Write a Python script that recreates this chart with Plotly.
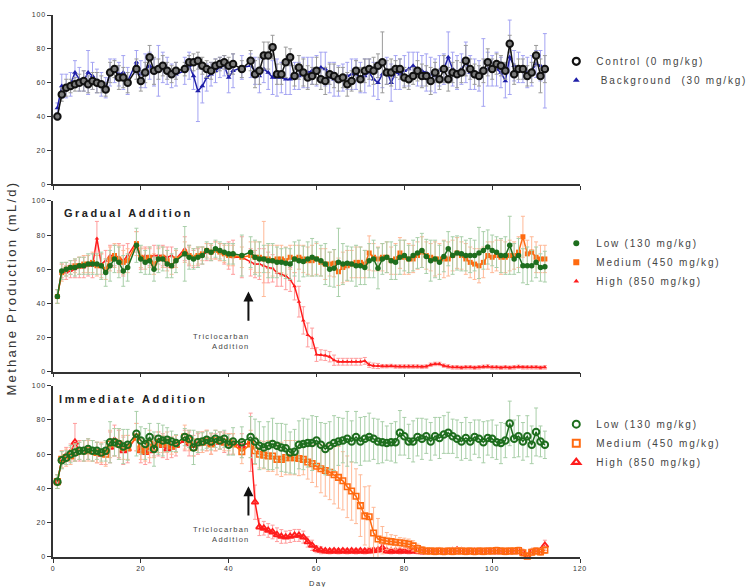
import plotly.graph_objects as go

# ---------------- DATA ----------------
DAYS = list(range(1, 18)) + list(range(19, 29)) + list(range(30, 42)) + [43] + list(range(45, 113))

# Panel 1
CONTROL = [40,53,57,58,59,60,61,59,61,60,59,56,66,68,63,63,60,
           68,61,66,75,67,68,70,67,65,67,
           68,72,72,73,70,68,67,70,71,72,70,71,
           68,
           73,65,67,76,76,81,65,65,72,75, 64,69,66,63,64,67,62,61,65,64,
           62,63,59,61,67,62,67,68,67,70, 72,66,66,68,68,63,62,64,67,64,
           64,61,66,62,68,62,66,65,66,73, 68,65,64,67,72,68,71,70,67,83,
           65,68,68,64,66,76,64,68]
CONTROL_ERR = [2,4,5,4,4,5,6,5,5,6,5,4,6,5,7,6,6,
               6,6,6,7,8,6,6,5,5,5,
               4,4,5,5,5,5,5,4,4,4,5,6,
               5,
               6,8,8,8,8,7,6,6,9,5, 6,7,8,7,5,8,6,8,6,7,
               7,6,7,6,6,7,7,6,8,7, 18,7,8,5,6,6,6,5,6,7,
               6,8,6,6,8,7,6,8,6,9, 6,6,6,7,8,6,6,6,5,5,
               6,6,6,6,6,6,10,8]
BACKGROUND = [45,58,58,59,66,62,61,66,64,61,59,57,66,67,65,66,61,
              72,65,67,70,66,67,69,67,64,65,
              67,70,64,55,58,63,65,67,69,70,63,67,
              69,
              70,67,64,68,66,63,63,63,62,62, 64,64,66,66,67,67,69,68,63,62,
              61,63,64,65,65,63,64,66,62,60, 65,67,60,66,65,67,68,70,68,67,
              66,65,64,67,68,75,68,66,68,72, 66,65,64,66,68,67,68,66,61,75,
              70,69,68,66,67,71,70,67]
BACKGROUND_ERR = [3,7,7,7,7,7,6,13,8,7,7,6,8,7,7,10,8,
                  7,8,10,8,8,15,9,8,7,7,
                  8,8,8,18,10,8,7,7,6,6,9,10,
                  7,
                  7,8,10,8,10,10,11,9,9,9, 8,8,9,9,8,9,9,10,9,10,
                  9,8,8,9,9,9,10,8,10,10, 8,8,11,10,9,9,10,8,10,9,
                  11,10,10,9,9,15,10,10,9,12, 10,9,9,20,10,9,10,9,10,22,
                  9,9,8,9,9,8,9,22]

# Panel 2 (Gradual Addition)
GRAD_LOW = [44,59,60,61,61,62,62,63,63,63,62,58,62,66,64,59,61,
            74,66,64,65,60,66,66,63,62,65,
            69,67,66,67,68,71,70,72,71,70,69,69,
            68,
            70,67,66,66,65,65,64,64,63.5,63, 66,65,64.5,66,67,66,65,63,60,60.5,
            64,63,63.5,63,62,62,61,65,66,60.5, 66,67,65,64,67,68,66,68,69.5,71,
            67.5,65,66,64,67.5,72,68,69.5,69,68, 68,68,69.5,71,73,71,70,68,68,74,
            66,68,62,62,62,64,61,61.5]
GRAD_LOW_ERR = [4,5,4,4,5,5,5,6,6,6,8,8,9,8,9,9,8,
                10,8,7,8,7,8,7,8,7,7,
                16,7,6,6,5,5,5,5,5,5,6,6,
                12,
                9,10,10,8,10,10,9,8,9,9, 10,12,9,10,11,10,9,12,10,11,
                20,12,10,10,12,11,10,10,11,12, 9,9,11,10,10,9,8,9,9,10,
                10,12,11,10,9,10,11,10,10,9, 10,9,15,11,10,9,9,10,11,17,
                9,10,10,11,9,9,8,9]
GRAD_MED = [44,58,60,61,62,62,63,63,64,62,62,60,66,68,66,64,65,
            75,67,66,67,63,66,67,65,62,66,
            70,68,67,68,69,71,70,71,70,69,68,68,
            67,
            68,67,67,66,66,65,66,66,65,67, 66,67,66,65,65,66,64,63,63,63.5,
            58.5,61,62,63,64,64,63,69.5,67,66, 67,67,65,66,69.5,67,66,66,68,70,
            68,67,66,66,66,66,68,69.5,68,66, 64,63,62,64,68,67,68,67,67,68,
            68,70,79,69,70,67,66,66]
GRAD_MED_ERR = [4,5,4,4,4,5,5,5,6,6,7,6,7,7,8,7,7,
                7,6,6,6,6,6,6,6,5,5,
                6,5,5,5,4,4,4,5,5,5,6,6,
                6,
                8,9,9,22,8,9,8,8,8,7, 8,7,8,8,9,9,8,9,7,8,
                8,9,9,8,9,9,8,10,8,7, 8,9,8,9,9,10,9,8,8,9,
                8,8,10,9,11,10,9,9,8,9, 9,9,10,9,8,9,9,10,9,9,
                8,9,12,8,9,9,8,8]
GRAD_HIGH = [44,59,58,59,60,61,61,62,62,78,63,65,68,68,67,65,68,
             76,66,68,67,68,68,68,67,68,66,
             72,68,66,67,68,70,70,71,70,69,68,67,
             67,
             64,63,63,62,61,60.5,58,57,56,54, 50,41,30,21.5,19.5,10,9.8,9.5,8.7,6.7,
             5.8,5.8,5.8,5.8,5.8,5.8,6.3,4,3.5,3.3, 3.2,3.2,3.3,3,3,3,3,3,3,2.8,
             3,4,4.5,4.5,3.5,3,2.5,2.5,2.3,2.5, 2.5,2.3,2.5,2.8,3,2.5,2.5,2.3,2.5,2.3,
             2.5,2.8,2.5,2.5,2.5,2.5,2.3,2.5]
GRAD_HIGH_ERR = [4,4,4,4,5,6,6,6,7,10,6,6,6,6,8,9,7,
                 6,6,5,5,6,5,6,6,5,5,
                 7,6,5,5,5,5,5,5,5,6,8,10,
                 12,
                 8,8,9,10,9,8,8,7,8,7, 8,9,8,7,6,4,3,3,3,3,
                 2,2,2,2,2,2,2,1.5,1.5,1.5, 1,1,1,1,1,1,1,1,1,1,
                 1,1,1,1,1,1,1,1,1,1, 1,1,1,1,1,1,1,1,1,1,
                 1,1,1,1,1,1,1,1]

# Panel 3 (Immediate Addition)
IMM_LOW = [44,56.5,58,60,61,62,62,63,62,62,61,62,67,67,66,64.5,65.5,
           72,68,66,70,63,69,68,68.5,67.5,66.5,
           70,69,64,67,67.5,68.5,67.5,69,68,69,65.5,67.5,
           67,
           70,67.5,65,64,65,66,65,64,63.5,61, 61.5,65.5,66,66.5,66.5,68,65.5,63,65,66.5,
           67.5,68,69,67.5,70,67.5,69,70,69,67.5, 67,66.5,67,67,72.5,70.5,67.5,67.5,70,69,
           70.5,67.5,70.5,69.5,71.5,72.5,70.5,69,67.5,69.5, 67.5,70,69,67,69.5,69,67,66.5,68,78,
           69,70.5,67.5,70.5,65.5,73,67.5,65.5]
IMM_LOW_ERR = [4,5,4,5,5,5,6,6,6,5,5,6,12,8,9,10,9,
               13,8,9,8,10,9,9,7,6,5,
               5,5,10,6,5,5,5,5,5,5,6,8,
               9,
               12,13,14,12,14,15,13,14,14,12, 13,14,15,14,16,14,13,15,14,16,
               14,13,16,12,15,14,13,14,12,13, 12,10,11,12,13,11,10,12,11,12,
               10,11,11,12,11,12,10,11,11,12, 11,10,11,12,10,11,10,12,10,13,
               11,12,11,12,11,14,9,8]
IMM_MED = [44,57,58,59,61,62,62,62,62,61,61,60,66,67,66,64,64,
           70,63,62,66,64,67,66,67,65,66,
           70,68,64,67,67,68,66,68,68,67,67,66,
           61.5,
           66,62,60,59.5,59,59,57,57,58,58, 58,57.5,57,55.5,54.5,53,51.5,50.5,49.5,48,
           46.5,44.5,41,38.5,35.5,30,24,23.5,14,10.5, 9.8,9.3,9,8.6,8.3,8,7.5,6.5,5,4,
           3.5,3.5,3.3,3.5,3.2,3.5,3.3,3.5,3.5,3.3, 3.5,3.2,3.5,3.3,3.5,3.5,3.8,3.5,3.3,3.5,
           3.5,3.8,2.5,0.5,2.8,3.5,3,4]
IMM_MED_ERR = [4,5,5,5,5,5,6,6,6,6,6,7,8,8,9,7,7,
               8,6,6,8,6,6,5,6,5,5,
               7,6,5,6,6,6,6,6,5,5,5,6,
               7,
               8,8,8,8,9,9,9,10,10,10, 10,10,9,10,11,12,14,15,16,17,
               18,17,18,17,16,18,17,18,15,12, 8,5,4,4,3,3,3,3,2.5,2,
               2,2,2,2,2,2,2,2,2,2, 2,2,2,2,2,2,2,2,2,2,
               2,2,2,2,2,2,2,2]
IMM_HIGH = [44,57,59,61,67,62,62,63,62,61,60,61,64,68,66,62,63,
            70,62,61,62,65,66,65,63,64,65,
            68,66,65,66,67,68,66,67,68,67,66,66,
            65,
            67,32,17.5,16.8,15.5,14.6,13,12,11.6,12, 12.6,12.6,11.6,8.8,6.8,4.5,3.9,3.5,3.3,3.5,
            3.3,3.5,3.3,3.5,3.3,3.5,3.3,3.5,3.8,4, 5.3,3.5,3.3,3.5,3.3,3.5,3.3,3.5,3.3,3,
            3,3.2,3,3.3,3,3.2,3.5,4,3.5,3, 3,3.2,3,3,3.2,3,3,3.2,3,3,
            3,3.2,2.5,0.5,3,3,3.5,6.8]
IMM_HIGH_ERR = [4,5,5,5,11,6,6,6,6,6,6,7,9,9,8,8,8,
                8,7,7,7,6,7,7,6,6,6,
                6,7,6,6,6,6,6,5,5,6,6,6,
                7,
                17,10,5,4,4,4,4,4,3.5,3.5, 3.5,3.5,3.5,3,3,2,2,1.5,1.5,1.5,
                1.5,1.5,1.5,1.5,1.5,1.5,1.5,1.5,1.5,1.5, 2,1.5,1.5,1.5,1.5,1.5,1.5,1.5,1.5,1.5,
                1.5,1.5,1.5,1.5,1.5,1.5,1.5,1.5,1.5,1.5, 1.5,1.5,1.5,1.5,1.5,1.5,1.5,1.5,1.5,1.5,
                1.5,1.5,1.5,1.5,1.5,1.5,1.5,3]

LEGEND1 = ["Control (0 mg/kg)", " Background  (30 mg/kg)"]
LEGEND2 = ["Low (130 mg/kg)", "Medium (450 mg/kg)", "High (850 mg/kg)"]
LEGEND3 = ["Low (130 mg/kg)", "Medium (450 mg/kg)", "High (850 mg/kg)"]
PANEL_TITLES = ["Gradual Addition", "Immediate Addition"]
Y_TITLE = "Methane Production (mL/d)"
X_TITLE = "Day"
ARROW_TEXT = "Triclocarban<br>Addition"
YTICKS = [0, 20, 40, 60, 80, 100]
XTICKS = [0, 20, 40, 60, 80, 100, 120]

for arr in [CONTROL, CONTROL_ERR, BACKGROUND, BACKGROUND_ERR, GRAD_LOW, GRAD_LOW_ERR,
            GRAD_MED, GRAD_MED_ERR, GRAD_HIGH, GRAD_HIGH_ERR, IMM_LOW, IMM_LOW_ERR,
            IMM_MED, IMM_MED_ERR, IMM_HIGH, IMM_HIGH_ERR]:
    assert len(arr) == len(DAYS), len(arr)

# ---------------- STYLE ----------------
BLACK = "#111111"; GRAY_ERR = "#9a9a9a"
BLUE = "#1f1fa8"; BLUE_ERR = "#a3a3f2"
GREEN = "#1e6e1e"; GREEN_ERR = "#a9cfa9"
ORANGE = "#ff6a10"; ORANGE_ERR = "#ffb896"
RED = "#ff1c1c"; RED_ERR = "#ff9c9c"
FONT = "Liberation Sans"


def sp(t, ls=1.5):
    return f'<span style="letter-spacing:{ls}px">{t}</span>'


fig = go.Figure()


def series(x, y, err, color, ecolor, symbol, size, lw_m, xa, ya, lw=1.5, fill=None):
    fig.add_trace(go.Scatter(
        x=x, y=y, mode="lines+markers", xaxis=xa, yaxis=ya, showlegend=False,
        line=dict(color=color, width=lw),
        marker=dict(symbol=symbol, size=size, color=fill or color,
                    line=dict(color=color, width=lw_m)),
        error_y=dict(type="data", array=err, color=ecolor, thickness=1, width=2),
        cliponaxis=False, hoverinfo="skip"))


def legend_item(name, color, symbol, size, lw_m, legend):
    fig.add_trace(go.Scatter(
        x=[None], y=[None], mode="markers", name=sp(name, 1.8), legend=legend,
        marker=dict(symbol=symbol, size=size, color=color, line=dict(color=color, width=lw_m)),
        xaxis="x", yaxis="y"))


# Panel 1
series(DAYS, BACKGROUND, BACKGROUND_ERR, BLUE, BLUE_ERR, "triangle-up", 5, 0, "x", "y")
series(DAYS, CONTROL, CONTROL_ERR, BLACK, GRAY_ERR, "circle", 6.5, 2, "x", "y", fill="#7a7a7a")
# Panel 2
series(DAYS, GRAD_HIGH, GRAD_HIGH_ERR, RED, RED_ERR, "triangle-up", 4, 0, "x2", "y2")
series(DAYS, GRAD_MED, GRAD_MED_ERR, ORANGE, ORANGE_ERR, "square", 5, 0, "x2", "y2")
series(DAYS, GRAD_LOW, GRAD_LOW_ERR, GREEN, GREEN_ERR, "circle", 5.5, 0, "x2", "y2")
# Panel 3
series(DAYS, IMM_HIGH, IMM_HIGH_ERR, RED, RED_ERR, "triangle-up-open", 6, 1.8, "x3", "y3")
series(DAYS, IMM_MED, IMM_MED_ERR, ORANGE, ORANGE_ERR, "square-open", 5.5, 1.6, "x3", "y3")
series(DAYS, IMM_LOW, IMM_LOW_ERR, GREEN, GREEN_ERR, "circle-open", 6.5, 2, "x3", "y3")

legend_item(LEGEND1[0], BLACK, "circle-open", 7, 2.2, "legend")
legend_item(LEGEND1[1], BLUE, "triangle-up", 6, 0, "legend")
legend_item(LEGEND2[0], GREEN, "circle", 6, 0, "legend2")
legend_item(LEGEND2[1], ORANGE, "square", 6, 0, "legend2")
legend_item(LEGEND2[2], RED, "triangle-up", 5, 0, "legend2")
legend_item(LEGEND3[0], GREEN, "circle-open", 7, 2, "legend3")
legend_item(LEGEND3[1], ORANGE, "square-open", 7, 2, "legend3")
legend_item(LEGEND3[2], RED, "triangle-up-open", 7, 2.2, "legend3")

tickfont = dict(family=FONT, size=7, color="#333333")
xax = dict(range=[0, 120], tickvals=XTICKS, ticks="outside", ticklen=4, tickwidth=1,
           tickcolor="#333333", showline=True, linecolor="#333333", linewidth=1.5,
           showgrid=False, zeroline=False, tickfont=tickfont, fixedrange=True)
yax = dict(range=[0, 100], tickvals=YTICKS, ticktext=[sp(str(v), 0.8) for v in YTICKS],
           ticks="outside", ticklen=4, tickwidth=1, tickcolor="#333333", showline=True,
           linecolor="#333333", linewidth=1.5, showgrid=False, zeroline=False,
           tickfont=tickfont, fixedrange=True)

leg_common = dict(font=dict(family=FONT, size=10, color="#444444"), bgcolor="rgba(0,0,0,0)",
                  xanchor="left", yanchor="middle", itemwidth=30, tracegroupgap=0)

fig.update_layout(
    width=752, height=587, margin=dict(l=53, r=172, t=15, b=30, autoexpand=False),
    paper_bgcolor="white", plot_bgcolor="white",
    xaxis=dict(xax, anchor="y", showticklabels=False),
    yaxis=dict(yax, domain=[0.688, 1], anchor="x"),
    xaxis2=dict(xax, anchor="y2", showticklabels=False),
    yaxis2=dict(yax, domain=[0.342, 0.657], anchor="x2"),
    xaxis3=dict(xax, anchor="y3", ticktext=[sp(str(v), 0.8) for v in XTICKS]),
    yaxis3=dict(yax, domain=[0.0, 0.316], anchor="x3"),
    legend=dict(leg_common, x=0.955, y=0.897),
    legend2=dict(leg_common, x=0.955, y=0.544),
    legend3=dict(leg_common, x=0.955, y=0.210),
)

annotations = [
    dict(text=sp(Y_TITLE, 2.3), xref="paper", yref="paper", x=-0.078, y=0.497,
         xanchor="center", yanchor="middle",
         textangle=-90, showarrow=False, font=dict(family=FONT, size=13, color="#333333")),
    dict(text=sp(X_TITLE, 1.5), xref="paper", yref="paper", x=0.503, y=-0.049,
         xanchor="center", yanchor="middle",
         showarrow=False, font=dict(family=FONT, size=7.5, color="#333333")),
    dict(text="<b>" + sp(PANEL_TITLES[0], 2.5) + "</b>", xref="x2", yref="y2", x=2.0, y=92.8,
         xanchor="left", yanchor="middle", showarrow=False,
         font=dict(family=FONT, size=11, color="#222222")),
    dict(text="<b>" + sp(PANEL_TITLES[1], 2.6) + "</b>", xref="x3", yref="y3", x=0.9, y=92.2,
         xanchor="left", yanchor="middle", showarrow=False,
         font=dict(family=FONT, size=11, color="#222222")),
    dict(text=sp(ARROW_TEXT, 1.3), xref="x2", yref="y2", x=45.3, y=17.7, xanchor="right",
         yanchor="middle", align="right", showarrow=False,
         font=dict(family=FONT, size=7.5, color="#444444")),
    dict(text=sp(ARROW_TEXT, 1.3), xref="x3", yref="y3", x=45.3, y=13.3, xanchor="right",
         yanchor="middle", align="right", showarrow=False,
         font=dict(family=FONT, size=7.5, color="#444444")),
    dict(text="", xref="x2", yref="y2", x=44.5, y=47, ax=44.5, ay=29, axref="x2", ayref="y2",
         showarrow=True, arrowhead=2, arrowsize=1, arrowwidth=2, arrowcolor="#111111"),
    dict(text="", xref="x3", yref="y3", x=44.5, y=41.3, ax=44.5, ay=23.4, axref="x3", ayref="y3",
         showarrow=True, arrowhead=2, arrowsize=1, arrowwidth=2, arrowcolor="#111111"),
]
fig.update_layout(annotations=annotations)

fig.write_html("out.html")
